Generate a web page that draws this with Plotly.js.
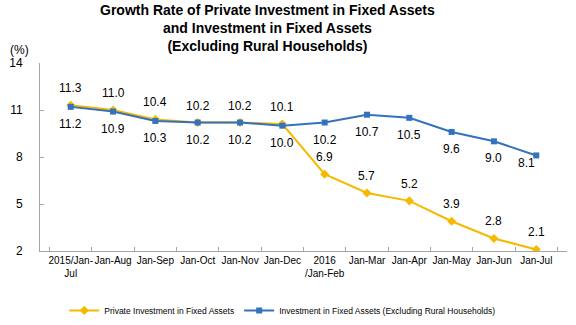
<!DOCTYPE html>
<html>
<head>
<meta charset="utf-8">
<script src="https://cdn.plot.ly/plotly-3.0.1.min.js"></script>
<style>html,body{margin:0;padding:0;background:#fff;}#chart{width:576px;height:325px;}</style>
</head>
<body>
<div id="chart"></div>
<script>
var categories = ["2015/Jan-<br>Jul", "Jan-Aug", "Jan-Sep", "Jan-Oct", "Jan-Nov", "Jan-Dec",
                  "2016<br>/Jan-Feb", "Jan-Mar", "Jan-Apr", "Jan-May", "Jan-Jun", "Jan-Jul"];
var privateInv = [11.3, 11.0, 10.4, 10.2, 10.2, 10.1, 6.9, 5.7, 5.2, 3.9, 2.8, 2.1];
var totalInv = [11.2, 10.9, 10.3, 10.2, 10.2, 10.0, 10.2, 10.7, 10.5, 9.6, 9.0, 8.1];
var seriesNames = ["Private Investment in Fixed Assets", "Investment in Fixed Assets (Excluding Rural Households)"];
var yTicks = [2, 5, 8, 11, 14];

var orange = "#F7B800", blue = "#3472BD";
var FONT = "Liberation Sans, Arial, sans-serif";

var traces = [
  {x: categories, y: privateInv, name: seriesNames[0], type: "scatter", mode: "lines+markers",
   line: {color: orange, width: 2}, marker: {symbol: "diamond", size: 7, color: orange}},
  {x: categories, y: totalInv, name: seriesNames[1], type: "scatter", mode: "lines+markers",
   line: {color: blue, width: 2}, marker: {symbol: "square", size: 6, color: blue}}
];

var annotations = [];
privateInv.forEach(function (v, i) {
  annotations.push({x: categories[i], y: v, text: v.toFixed(1), showarrow: false,
    yshift: 17, font: {family: FONT, size: 12, color: "#000"}});
});
totalInv.forEach(function (v, i) {
  var last = i === totalInv.length - 1;
  annotations.push({x: categories[i], y: v, text: v.toFixed(1), showarrow: false,
    yshift: last ? -8 : -17, xshift: last ? -10 : 0, font: {family: FONT, size: 12, color: "#000"}});
});
annotations.push({xref: "paper", yref: "paper", x: -0.06, y: 1.07, xanchor: "left", yanchor: "middle",
  text: "(%)", showarrow: false, font: {family: FONT, size: 12, color: "#000"}});
annotations.push({xref: "paper", yref: "paper", x: 0.4326, y: 1.336, xanchor: "center", yanchor: "top",
  text: "<b>Growth Rate of Private Investment in Fixed Assets<br>and Investment in Fixed Assets<br>(Excluding Rural Households)</b>",
  showarrow: false, font: {family: FONT, size: 14, color: "#000"}});

var layout = {
  width: 576, height: 325,
  margin: {l: 40, r: 9, t: 63, b: 74},
  paper_bgcolor: "#fff", plot_bgcolor: "#fff",
  font: {family: FONT, size: 10, color: "#000"},
  xaxis: {type: "category", showline: true, linecolor: "#a6a6a6", linewidth: 1, showgrid: false, zeroline: false,
    ticks: "inside", tickson: "boundaries", ticklen: 4, tickcolor: "#a6a6a6", tickangle: 0,
    tickfont: {family: FONT, size: 10, color: "#000"}, fixedrange: true},
  yaxis: {range: [2, 14], tickvals: yTicks, showline: true, linecolor: "#a6a6a6", linewidth: 1,
    showgrid: false, zeroline: false, ticks: "inside", ticklen: 4, tickcolor: "#a6a6a6", ticklabelstandoff: 14,
    tickfont: {family: FONT, size: 12, color: "#000"}},
  showlegend: true,
  legend: {orientation: "h", x: 0.49, xref: "container", xanchor: "center", y: 0.045, yref: "container", yanchor: "middle",
    font: {family: FONT, size: 8.5, color: "#000"}, itemwidth: 30},
  annotations: annotations
};

Plotly.newPlot("chart", traces, layout, {displayModeBar: false, staticPlot: true});
</script>
</body>
</html>
